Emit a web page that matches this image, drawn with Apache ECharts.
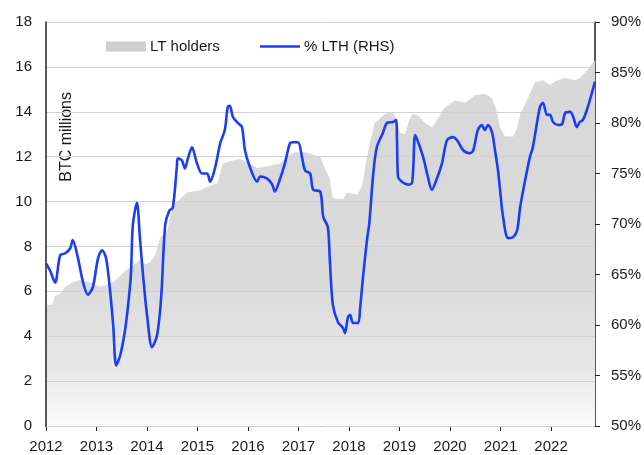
<!DOCTYPE html>
<html>
<head>
<meta charset="utf-8">
<script src="https://cdn.jsdelivr.net/npm/echarts@6/dist/echarts.min.js"></script>
<style>
  html, body { margin: 0; padding: 0; background: #fff; }
  #chart { width: 644px; height: 455px; }
</style>
</head>
<body>
<div id="chart"></div>
<script>
const chart = echarts.init(document.getElementById('chart'));

// LT holders, BTC millions (left axis)
const holderYears = [2012.00, 2012.12, 2012.18, 2012.28, 2012.38, 2012.53, 2012.67, 2012.87, 2013.07, 2013.21,
  2013.33, 2013.56, 2013.86, 2013.96, 2014.06, 2014.16, 2014.26, 2014.40, 2014.51, 2014.65,
  2014.79, 2015.05, 2015.25, 2015.39, 2015.50, 2015.64, 2015.84, 2016.04, 2016.18, 2016.34,
  2016.63, 2016.77, 2016.93, 2017.13, 2017.43, 2017.52, 2017.62, 2017.68, 2017.88, 2017.96,
  2018.16, 2018.26, 2018.34, 2018.42, 2018.51, 2018.71, 2018.87, 2018.95, 2019.01, 2019.11,
  2019.19, 2019.25, 2019.37, 2019.50, 2019.64, 2019.90, 2020.10, 2020.30, 2020.50, 2020.69,
  2020.83, 2020.93, 2020.99, 2021.09, 2021.25, 2021.33, 2021.39, 2021.52, 2021.68, 2021.84,
  2021.98, 2022.12, 2022.28, 2022.48, 2022.57, 2022.73, 2022.83, 2022.87];
const holderValues = [5.4, 5.4, 5.8, 5.9, 6.2, 6.4, 6.5, 6.4, 6.2, 6.3,
  6.4, 6.9, 7.4, 7.2, 7.3, 7.6, 8.4, 8.7, 9.8, 10.1,
  10.4, 10.5, 10.7, 10.8, 11.7, 11.8, 11.9, 11.7, 11.5, 11.55,
  11.7, 12.0, 12.2, 12.2, 12.0, 11.5, 11.0, 10.15, 10.1, 10.4,
  10.3, 10.7, 11.8, 12.7, 13.5, 13.9, 14.0, 13.6, 13.05, 13.0,
  13.6, 13.9, 13.85, 13.5, 13.3, 14.2, 14.5, 14.4, 14.75, 14.8,
  14.6, 14.0, 13.3, 12.9, 12.9, 13.3, 13.9, 14.5, 15.3, 15.4,
  15.2, 15.4, 15.5, 15.4, 15.5, 15.9, 16.2, 16.3];

// % LTH (right axis)
const lthYears = [2012.00, 2012.08, 2012.18, 2012.28, 2012.38, 2012.48, 2012.53, 2012.63, 2012.73, 2012.83,
  2012.93, 2013.03, 2013.11, 2013.19, 2013.27, 2013.33, 2013.39, 2013.47, 2013.56, 2013.62,
  2013.68, 2013.72, 2013.80, 2013.86, 2013.92, 2014.00, 2014.10, 2014.20, 2014.28, 2014.36,
  2014.44, 2014.51, 2014.59, 2014.61, 2014.69, 2014.75, 2014.81, 2014.89, 2014.99, 2015.09,
  2015.19, 2015.25, 2015.35, 2015.45, 2015.54, 2015.60, 2015.64, 2015.70, 2015.80, 2015.88,
  2015.94, 2016.04, 2016.18, 2016.24, 2016.38, 2016.48, 2016.53, 2016.63, 2016.73, 2016.83,
  2016.89, 2016.99, 2017.07, 2017.13, 2017.23, 2017.29, 2017.43, 2017.49, 2017.58, 2017.62,
  2017.68, 2017.78, 2017.88, 2017.92, 2017.98, 2018.02, 2018.08, 2018.18, 2018.22, 2018.28,
  2018.36, 2018.40, 2018.48, 2018.55, 2018.67, 2018.75, 2018.87, 2018.93, 2018.95, 2018.97,
  2019.07, 2019.17, 2019.25, 2019.31, 2019.37, 2019.47, 2019.56, 2019.64, 2019.74, 2019.84,
  2019.94, 2020.06, 2020.14, 2020.26, 2020.40, 2020.46, 2020.55, 2020.63, 2020.69, 2020.75,
  2020.83, 2020.89, 2020.95, 2020.99, 2021.05, 2021.15, 2021.25, 2021.33, 2021.39, 2021.49,
  2021.58, 2021.64, 2021.78, 2021.84, 2021.92, 2021.98, 2022.04, 2022.14, 2022.22, 2022.28,
  2022.38, 2022.44, 2022.51, 2022.57, 2022.63, 2022.71, 2022.81, 2022.87];
const lthValues = [66.1, 65.4, 64.2, 66.9, 67.1, 67.6, 68.4, 66.7, 64.3, 63.0,
  63.8, 66.6, 67.4, 66.6, 63.3, 60.0, 56.0, 57.0, 59.3, 61.7,
  64.9, 69.9, 72.1, 68.6, 65.0, 61.0, 57.8, 59.0, 62.7, 69.9,
  71.3, 71.6, 75.6, 76.5, 76.3, 75.5, 76.5, 77.6, 76.0, 75.0,
  75.0, 74.2, 75.6, 78.0, 79.3, 81.6, 81.7, 80.6, 80.0, 79.6,
  77.3, 75.6, 74.2, 74.7, 74.5, 73.9, 73.2, 74.4, 76.0, 78.0,
  78.1, 78.1, 76.6, 75.3, 75.0, 73.4, 73.2, 70.7, 69.7, 66.4,
  62.0, 60.3, 59.7, 59.2, 60.8, 61.0, 60.2, 60.2, 61.7, 64.9,
  68.6, 70.0, 75.0, 77.6, 79.0, 80.0, 80.1, 80.3, 78.3, 74.7,
  74.1, 73.9, 74.1, 78.8, 78.1, 76.6, 74.7, 73.4, 74.5, 76.0,
  78.3, 78.6, 78.3, 77.3, 77.0, 77.3, 79.3, 79.8, 79.3, 79.8,
  79.1, 77.3, 75.3, 73.4, 70.7, 68.6, 68.7, 69.4, 71.7, 74.4,
  76.6, 77.6, 81.6, 82.0, 80.8, 80.8, 80.1, 79.8, 79.9, 81.0,
  81.1, 80.6, 79.6, 80.1, 80.3, 81.3, 83.0, 84.1];

const FONT = '"Liberation Sans", Arial, sans-serif';
const TEXT = '#1a1a1a';
const BLUE = '#1d3cf5';

const pairs = (xs, ys) => xs.map((x, i) => [x, ys[i]]);

const legendText = { fontSize: 15, color: TEXT, fontFamily: FONT, padding: [0, 0, 0, -1] };

chart.setOption({
  animation: false,
  textStyle: { fontFamily: FONT },
  grid: { left: 46, right: 49, top: 22, bottom: 29 },
  legend: [
    {
      top: 34,
      left: 101,
      itemWidth: 40,
      itemHeight: 10,
      textStyle: legendText,
      data: [{ name: 'LT holders', icon: 'rect' }]
    },
    {
      top: 34,
      left: 255,
      itemWidth: 40,
      itemHeight: 10,
      textStyle: legendText,
      data: [{ name: '% LTH (RHS)', icon: 'path://M0,4 L40,4 L40,6.6 L0,6.6 Z' }]
    }
  ],
  graphic: [{
    type: 'text',
    left: 59,
    top: 92,
    rotation: Math.PI / 2,
    style: { text: 'BTC millions', font: '16px ' + FONT, fill: TEXT }
  }],
  xAxis: {
    type: 'value',
    min: 2012,
    max: 2022.87,
    interval: 1,
    axisLine: { lineStyle: { color: '#222', width: 1.5 } },
    axisTick: { show: true, length: 5, lineStyle: { color: '#222' } },
    splitLine: { show: false },
    axisLabel: {
      color: TEXT,
      fontSize: 15,
      margin: 13,
      showMaxLabel: false,
      formatter: (v) => (Number.isInteger(v) ? String(v) : '')
    }
  },
  yAxis: [
    {
      type: 'value',
      min: 0,
      max: 18,
      interval: 2,
      z: 3,
      axisLine: { show: true, lineStyle: { color: '#222', width: 1.5 } },
      axisTick: { show: false },
      axisLabel: { color: TEXT, fontSize: 15, margin: 14 },
      splitLine: { lineStyle: { color: '#d2d2d2', width: 1 } }
    },
    {
      type: 'value',
      min: 50,
      max: 90,
      interval: 5,
      position: 'right',
      axisLine: { show: true, lineStyle: { color: '#222', width: 1.5 } },
      axisTick: { show: true, inside: false, length: 5, lineStyle: { color: '#222' } },
      axisLabel: { color: TEXT, fontSize: 15, margin: 16, formatter: '{value}%' },
      splitLine: { show: false }
    }
  ],
  series: [
    {
      name: 'LT holders',
      type: 'line',
      yAxisIndex: 0,
      data: pairs(holderYears, holderValues),
      showSymbol: false,
      symbol: 'none',
      color: '#cfcfcf',
      lineStyle: { width: 0, opacity: 0 },
      areaStyle: {
        opacity: 1,
        color: new echarts.graphic.LinearGradient(0, 0, 0, 1, [
          { offset: 0, color: '#d8d8d8' },
          { offset: 0.6, color: '#dadada' },
          { offset: 0.85, color: '#e8e8e8' },
          { offset: 1, color: '#fbfbfb' }
        ])
      },
      z: 1
    },
    {
      name: '% LTH (RHS)',
      type: 'line',
      yAxisIndex: 1,
      data: pairs(lthYears, lthValues),
      showSymbol: false,
      symbol: 'none',
      smooth: 0.3,
      color: BLUE,
      lineStyle: { width: 2.6, color: BLUE },
      z: 5
    }
  ]
});
</script>
</body>
</html>
